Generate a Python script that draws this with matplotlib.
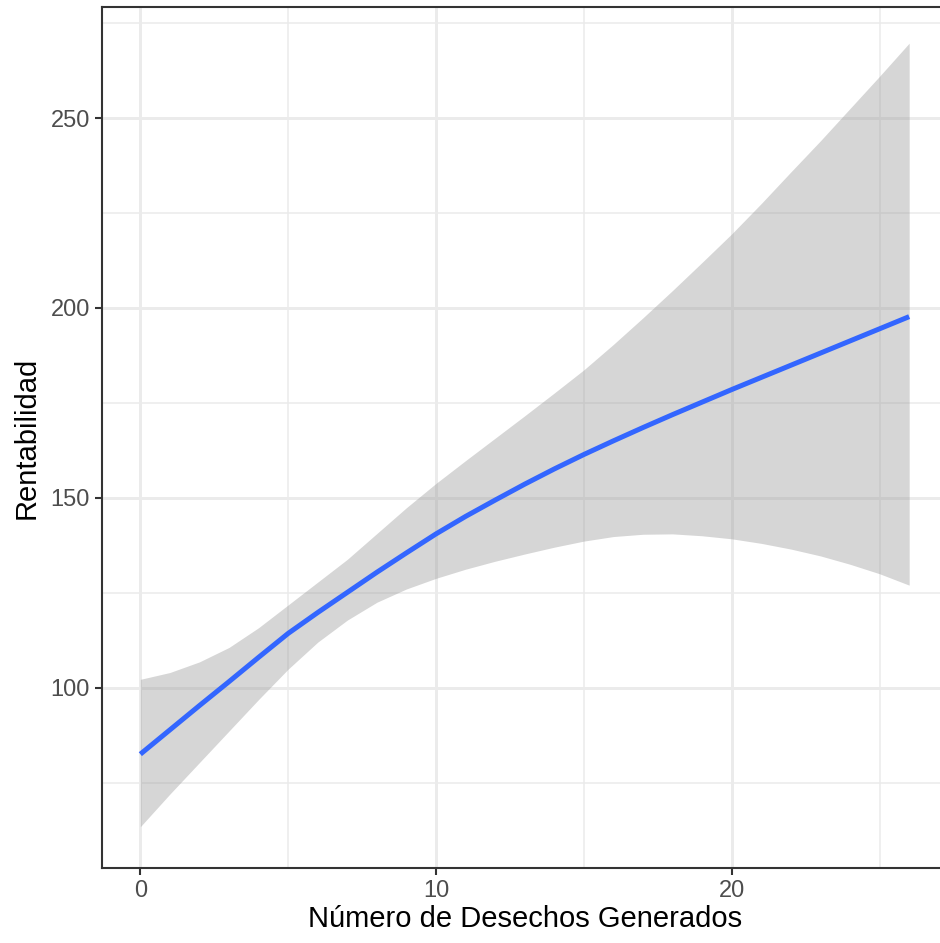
import matplotlib
matplotlib.use("Agg")
import matplotlib.pyplot as plt
from matplotlib.ticker import MultipleLocator

plt.rcParams['font.family'] = ['Liberation Sans', 'DejaVu Sans']

# Smoothed fit (loess)
x_vals = list(range(0, 27))
fit = [82.5, 88.9, 95.3, 101.6, 108.0, 114.3, 119.8, 125.1, 130.4, 135.5,
       140.5, 145.1, 149.4, 153.6, 157.6, 161.4, 165.0, 168.5, 171.9, 175.2,
       178.5, 181.7, 184.9, 188.1, 191.3, 194.5, 197.7]
upper = [102.2, 104.0, 106.8, 110.6, 115.8, 121.8, 127.8, 133.8, 140.6, 147.4,
         153.8, 159.8, 165.7, 171.6, 177.6, 183.7, 190.4, 197.4, 204.6, 212.0,
         219.5, 227.5, 235.8, 244.0, 252.5, 261.0, 269.7]
lower = [63.4, 72.0, 80.3, 88.6, 96.9, 104.9, 112.0, 117.8, 122.5, 126.0,
         128.8, 131.2, 133.3, 135.2, 137.0, 138.6, 139.8, 140.4, 140.5, 140.0,
         139.2, 138.0, 136.5, 134.7, 132.5, 130.0, 127.0]

x_ticks = [0, 10, 20]
y_ticks = [100, 150, 200, 250]
x_label = "Número de Desechos Generados"
y_label = "Rentabilidad"

W, H = 940, 943
fig = plt.figure(figsize=(W / 100, H / 100), dpi=100)
fig.patch.set_facecolor("white")

left_px, right_px = 101.9, 947.6
top_px, bottom_px = 7.1, 868.1
ax = fig.add_axes([left_px / W, 1 - bottom_px / H,
                   (right_px - left_px) / W, (bottom_px - top_px) / H])
ax.set_facecolor("white")

ax.set_xlim(-1.3, 27.3)
ax.set_ylim(52.5, 279.2)

ax.xaxis.set_minor_locator(MultipleLocator(5))
ax.yaxis.set_minor_locator(MultipleLocator(25))
ax.set_xticks(x_ticks)
ax.set_yticks(y_ticks)
ax.grid(which="major", color="#EBEBEB", linewidth=2.1, zorder=0)
ax.grid(which="minor", color="#EBEBEB", linewidth=1.1, zorder=0)
ax.set_axisbelow(True)

ax.fill_between(x_vals, lower, upper, color="#999999", alpha=0.4,
                linewidth=0, zorder=2)
ax.plot(x_vals, fit, color="#3366FF", linewidth=3.6, zorder=3,
        solid_capstyle="butt")

for s in ["left", "bottom", "top", "right"]:
    ax.spines[s].set_color("#333333")
    ax.spines[s].set_linewidth(1.5)

ax.tick_params(which="major", length=5, width=1.5, color="#333333",
               labelcolor="#4D4D4D", labelsize=17, pad=3.5)
ax.tick_params(which="minor", length=0)

ax.set_xlabel(x_label, fontsize=21, color="black", labelpad=2)
ax.set_ylabel(y_label, fontsize=21, color="black", labelpad=7)

fig.savefig("out.png", dpi=100, facecolor="white")
